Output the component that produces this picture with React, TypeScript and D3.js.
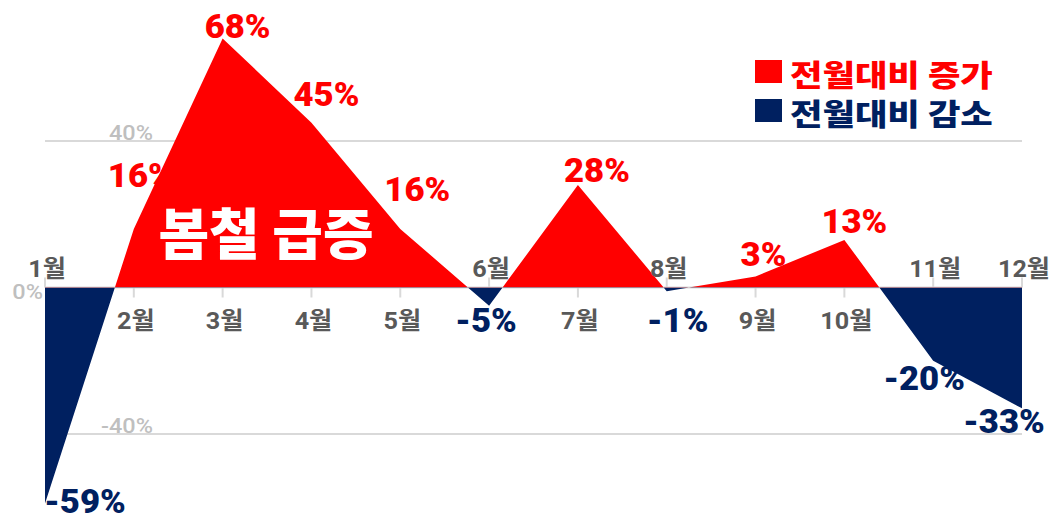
import { useEffect } from "react";
import * as d3 from "d3";

// data
const months = ["1월", "2월", "3월", "4월", "5월", "6월", "7월", "8월", "9월", "10월", "11월", "12월"];
const changes = [-59, 16, 68, 45, 16, -5, 28, -1, 3, 13, -20, -33];
const gridTicks = [40, 0, -40];
const legendItems = ["전월대비 증가", "전월대비 감소"];
const callout = "봄철 급증";

// label nudges (dx, dy from the point to label baseline)
const labelNudge: [number, number][] = [
  [40, 9], [7, -42], [15, 0], [15, -17], [17, -28], [-3, 26],
  [19, -3], [11, 41], [8, -11], [10, -7], [-9, 29], [-18, 25],
];

const COLORS = {
  up: "#FF0000",
  down: "#002060",
  grid: "#D9D9D9",
  axisText: "#BFBFBF",
  month: "#595959",
};

const W = 1064;
const H = 529;
const FONT = "Roboto, 'Noto Sans CJK KR', sans-serif";
const KFONT = "'Noto Sans CJK KR', sans-serif";

export default function App() {
  useEffect(() => {
    document.body.style.margin = "0";
  }, []);

  const x = d3.scalePoint<string>().domain(months).range([45, 1022]);
  const y = d3.scaleLinear().domain([-40, 40]).range([434, 141]);
  const y0 = y(0);

  const pts = months.map((m, i) => ({ m, v: changes[i] }));
  const area = d3
    .area<{ m: string; v: number }>()
    .x((d) => x(d.m) ?? 0)
    .y0(y0)
    .y1((d) => y(d.v));
  const path = area(pts) ?? "";

  const [xl, xr] = x.range();

  return (
    <svg width={W} height={H} style={{ display: "block", background: "#fff" }}>
      <defs>
        <clipPath id="clip-up">
          <rect x={0} y={0} width={W} height={y0} />
        </clipPath>
        <clipPath id="clip-down">
          <rect x={0} y={y0} width={W} height={H - y0} />
        </clipPath>
      </defs>

      {/* gridlines */}
      {gridTicks.map((t) => (
        <line key={t} x1={xl} x2={xr} y1={y(t)} y2={y(t)} stroke={COLORS.grid} strokeWidth={2} />
      ))}

      {/* month ticks */}
      {pts.map((d) => (
        <line
          key={d.m}
          x1={x(d.m)}
          x2={x(d.m)}
          y1={y0}
          y2={d.v < 0 ? y0 - 10 : y0 + 10}
          stroke={COLORS.grid}
          strokeWidth={2}
        />
      ))}

      {/* axis labels */}
      {gridTicks.map((t) => (
        <text
          key={t}
          transform={`translate(${t === 0 ? 43 : 153},${t === 0 ? y0 + 11 : y(t) - 1}) scale(1.12,1)`}
          textAnchor="end"
          fontFamily={FONT}
          fontWeight={500}
          fontSize={21}
          fill={COLORS.axisText}
        >
          {`${t}%`}
        </text>
      ))}

      {/* value labels (under the area) */}
      {pts.map((d, i) => {
        const [dx, dy] = labelNudge[i];
        return (
          <text
            key={d.m}
            transform={`translate(${(x(d.m) ?? 0) + dx},${y(d.v) + dy}) scale(1.02,1)`}
            textAnchor="middle"
            fontFamily={FONT}
            fontWeight={900}
            fontSize={34}
            fill={d.v >= 0 ? COLORS.up : COLORS.down}
          >
            {`${d.v}%`}
          </text>
        );
      })}

      {/* areas */}
      <path d={path} fill={COLORS.up} clipPath="url(#clip-up)" />
      <path d={path} fill={COLORS.down} clipPath="url(#clip-down)" />

      {/* month labels */}
      {pts.map((d) => (
        <text
          key={d.m}
          transform={`translate(${(x(d.m) ?? 0) + 2},${d.v < 0 ? y0 - 11 : y0 + 41}) scale(1.05,1)`}
          textAnchor="middle"
          fontFamily={FONT}
          fontWeight={700}
          fontSize={24}
          fill={COLORS.month}
        >
          {d.m}
        </text>
      ))}

      {/* callout */}
      <text
        x={266}
        y={254}
        textAnchor="middle"
        fontFamily={KFONT}
        fontWeight={900}
        fontSize={55}
        fill="#fff"
      >
        {callout}
      </text>

      {/* legend */}
      {legendItems.map((label, i) => (
        <g key={label} transform={`translate(755,${60 + i * 39})`}>
          <rect width={27} height={23} fill={i === 0 ? COLORS.up : COLORS.down} />
          <text
            transform="translate(35,26) scale(1.26,1.06)"
            fontFamily={KFONT}
            fontWeight={900}
            fontSize={28}
            fill={i === 0 ? COLORS.up : COLORS.down}
          >
            {label}
          </text>
        </g>
      ))}
    </svg>
  );
}
